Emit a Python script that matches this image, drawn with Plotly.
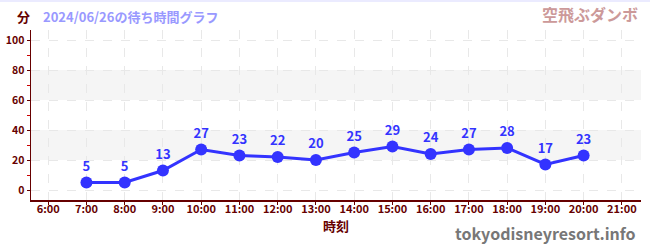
import plotly.graph_objects as go

hours = [7, 8, 9, 10, 11, 12, 13, 14, 15, 16, 17, 18, 19, 20]
waits = [5, 5, 13, 27, 23, 22, 20, 25, 29, 24, 27, 28, 17, 23]
tick_hours = list(range(6, 22))
tick_labels = [f"{h}:00" for h in tick_hours]
y_ticks = [0, 20, 40, 60, 80, 100]

FONT = "Noto Sans CJK JP"
AX = "#660000"
BLUE = "#3333ff"

fig = go.Figure()
fig.add_trace(go.Scatter(
    x=hours, y=waits, mode="lines+markers+text",
    text=[str(v) for v in waits], textposition="top center",
    textfont=dict(family=FONT, size=13, color=BLUE, weight="bold"),
    line=dict(color=BLUE, width=3),
    marker=dict(color=BLUE, size=12),
    cliponaxis=False, hoverinfo="skip", showlegend=False,
))

for lo, hi in [(20, 40), (60, 80)]:
    fig.add_shape(type="rect", xref="paper", yref="y", x0=0, x1=1, y0=lo, y1=hi,
                  fillcolor="#f5f5f5", line_width=0, layer="below")

fig.update_layout(
    width=650, height=250,
    margin=dict(l=31, r=9, t=30, b=50),
    paper_bgcolor="white", plot_bgcolor="white",
    font=dict(family=FONT, color=AX, size=11),
    xaxis=dict(range=[5.55, 21.5], tickvals=tick_hours, ticktext=tick_labels,
               automargin=False,
               showline=True, linecolor=AX, linewidth=1.5,
               ticks="outside", ticklen=3, tickcolor=AX,
               ticklabelstandoff=-5,
               showgrid=True, gridcolor="#e8e8e8", griddash="dash",
               tickfont=dict(size=11, color=AX, weight="bold"), zeroline=False,
               title=dict(text="時刻", font=dict(size=13, color=AX, weight="bold"), standoff=4)),
    yaxis=dict(range=[-6.67, 106.67], tickvals=y_ticks,
               automargin=False,
               showline=True, linecolor=AX, linewidth=1.5,
               ticks="outside", ticklen=3, tickcolor=AX,
               ticklabelstandoff=0,
               showgrid=True, gridcolor="#e8e8e8", griddash="dash",
               zeroline=False, tickfont=dict(size=10.5, color=AX, weight="bold"),
               minor=dict(tickvals=[10, 30, 50, 70, 90], ticks="outside", ticklen=3,
                          tickcolor="#cc0000", showgrid=False)),
    annotations=[
        dict(text="<b>分</b>", xref="paper", yref="paper", x=0.0, xshift=-16, y=1.0, yshift=14,
             xanchor="left", yanchor="middle", showarrow=False,
             font=dict(size=13, color=AX)),
        dict(text="2024/06/26の待ち時間グラフ", xref="paper", yref="paper", x=0.0, y=1.0, yshift=14,
             xanchor="left", xshift=10, yanchor="middle", showarrow=False,
             font=dict(size=13, color="#9999ff", weight="bold")),
        dict(text="空飛ぶダンボ", xref="paper", yref="paper", x=1.0, y=1.0, yshift=16,
             xanchor="right", xshift=-1, yanchor="middle", showarrow=False,
             font=dict(size=16, color="#cc9999", weight="bold")),
        dict(text="tokyodisneyresort.info", xref="paper", yref="paper", x=1.0, y=0, yshift=-33,
             xanchor="right", xshift=-3, yanchor="middle", showarrow=False,
             font=dict(size=16, color="#777777", weight="bold")),
    ],
)
fig.add_shape(type="line", xref="paper", yref="paper", x0=-0.06, x1=1.02,
              y0=1 + 29 / 170, y1=1 + 29 / 170, line=dict(color="#e4e4ff", width=1.5))

fig.write_html("out.html", config={"displayModeBar": False, "staticPlot": True},
               post_script="document.body.style.margin='0';")
